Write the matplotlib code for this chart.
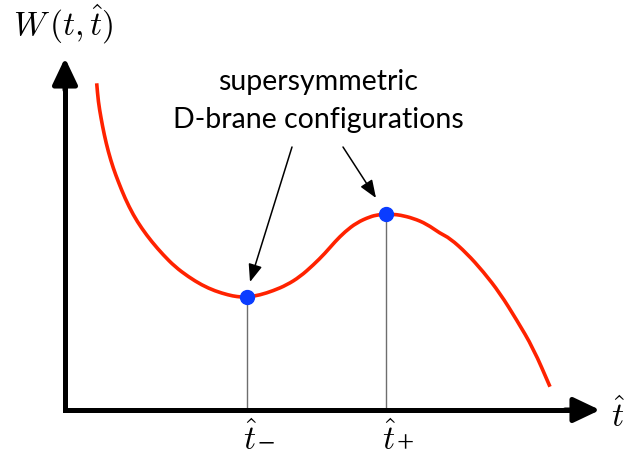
import matplotlib
matplotlib.use("Agg")
import matplotlib.pyplot as plt
from matplotlib.path import Path
from matplotlib.patches import PathPatch

plt.rcParams["mathtext.fontset"] = "cm"

# Potential W(t, t_hat) sampled along t_hat
t_vals = [31.7, 33.3, 36, 39.3, 43.3, 48.3, 53.3, 60, 68.3, 76.7, 86.7, 98.3,
          110, 123.3, 136.7, 150, 163.3, 172, 181.7, 195, 208.3, 221.7, 235,
          248.3, 260, 270, 280, 291.7, 305, 313, 320.7, 328, 335, 348.3, 361.7,
          375, 385, 401.7, 418.3, 435, 451.7, 468.3, 485]
w_vals = [326.7, 308.3, 292, 275, 258.3, 241.7, 228.3, 211.7, 195, 181.7, 168.3,
          155, 143.3, 133.3, 125, 119, 115, 113.3, 112.7, 115, 119.3, 125, 133.3,
          145, 156.7, 168.3, 178.3, 187.3, 193.3, 195.2, 195.7, 195.6, 195,
          191.7, 186, 176.7, 171.7, 156.7, 138.3, 116.7, 90, 61.7, 23.3]

# Supersymmetric configurations (critical points)
crit_t = [181.7, 320.7]
crit_w = [112.7, 195.7]
crit_subscripts = ["\u2212", "+"]

annotation_lines = ["supersymmetric", "D-brane configurations"]

fig = plt.figure(figsize=(6.25, 4.59), dpi=100)
ax = fig.add_axes([0, 0, 1, 1])
ax.set_xlim(-65, 560)
ax.set_ylim(-49, 410)
ax.axis("off")

# Axes with arrow heads
ax.plot([0, 0, 510], [330, 0, 0], color="black", lw=3.6,
        solid_joinstyle="miter", solid_capstyle="butt", zorder=3)
head = dict(arrowstyle="-|>,head_length=0.8,head_width=0.38", color="black",
            lw=3.6, mutation_scale=20, shrinkA=0, shrinkB=0)
ax.annotate("", xy=(0, 352), xytext=(0, 320), arrowprops=head, zorder=3)
ax.annotate("", xy=(535, 0), xytext=(500, 0), arrowprops=head, zorder=3)

# Drop lines from critical points
for tc, wc in zip(crit_t, crit_w):
    ax.plot([tc, tc], [0, wc], color="#6e6e6e", lw=1.0, zorder=2)

# Smooth curve through the samples (quadratic segments between midpoints)
pts = list(zip(t_vals, w_vals))
verts = [pts[0], ((pts[0][0] + pts[1][0]) / 2, (pts[0][1] + pts[1][1]) / 2)]
codes = [Path.MOVETO, Path.LINETO]
for i in range(1, len(pts) - 1):
    mid = ((pts[i][0] + pts[i + 1][0]) / 2, (pts[i][1] + pts[i + 1][1]) / 2)
    verts += [pts[i], mid]
    codes += [Path.CURVE3, Path.CURVE3]
verts.append(pts[-1])
codes.append(Path.LINETO)
ax.add_patch(PathPatch(Path(verts, codes), facecolor="none",
                       edgecolor="#ff2200", lw=2.6, capstyle="butt",
                       joinstyle="round", zorder=4))
ax.plot(crit_t, crit_w, "o", color="#0a3cff", markersize=10, zorder=5)

# Labels
ax.text(-52, 374, r"$W\,(t,\hat{t})$", fontsize=24, ha="left", va="baseline")
ax.text(546, -17, r"$\hat{t}$", fontsize=24, ha="left", va="baseline")
for tc, sub in zip(crit_t, crit_subscripts):
    ax.text(tc - 4, -40, r"$\hat{t}$", fontsize=24, ha="left", va="baseline")
    ax.text(tc + 11, -42.5, sub, fontsize=22,
            family=["Liberation Serif", "DejaVu Serif"],
            ha="left", va="baseline")

ax.text(253, 320, annotation_lines[0], fontsize=20.5, family="Lato",
        ha="center", va="baseline")
ax.text(253, 282, annotation_lines[1], fontsize=20.5, family="Lato",
        ha="center", va="baseline")

pointer = dict(arrowstyle="-|>,head_length=0.9,head_width=0.35", color="black",
               lw=1.1, mutation_scale=12, shrinkA=0, shrinkB=0)
ax.annotate("", xy=(185, 128), xytext=(227, 263), arrowprops=pointer)
ax.annotate("", xy=(311, 212), xytext=(278, 263), arrowprops=pointer)

fig.savefig("out.png", dpi=100)
